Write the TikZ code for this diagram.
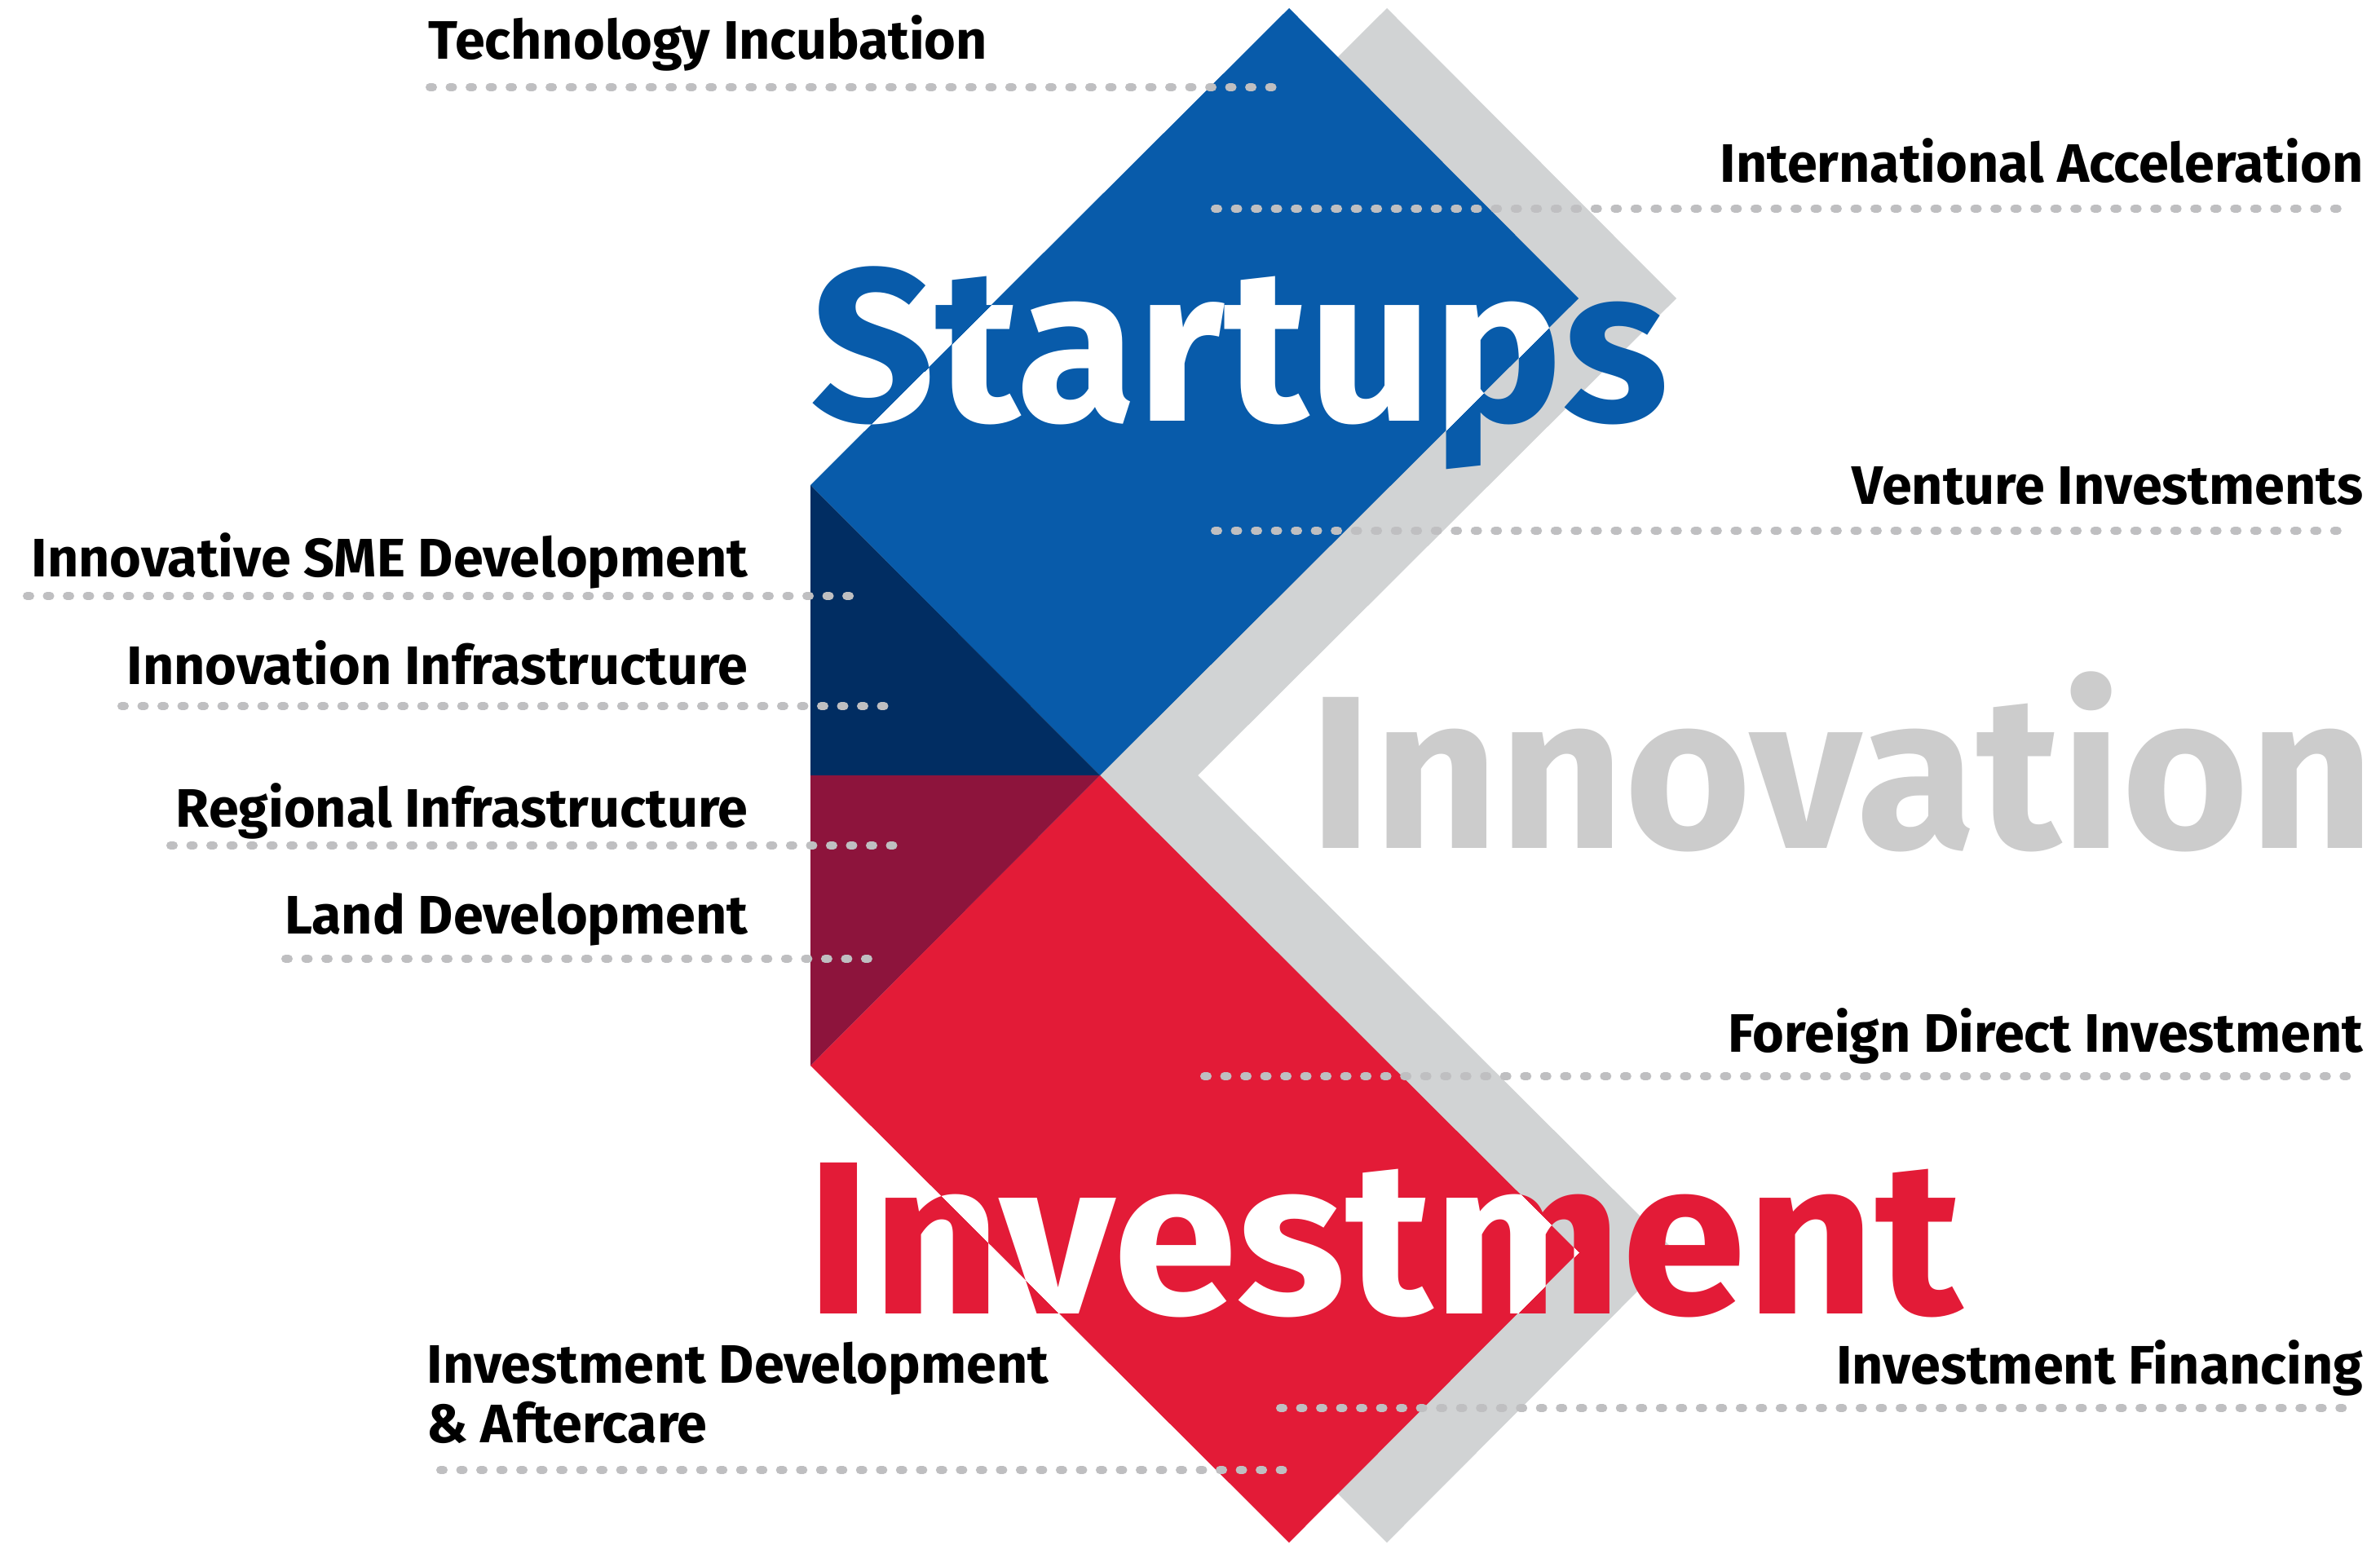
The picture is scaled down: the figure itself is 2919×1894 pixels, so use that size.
\documentclass[tikz,border=0pt]{standalone}
\usepackage{fontspec}
\setmainfont{Fira Sans}
\definecolor{startblue}{HTML}{085BAA}
\definecolor{startnavy}{HTML}{012D62}
\definecolor{invred}{HTML}{E31B37}
\definecolor{invcrimson}{HTML}{8D143C}
\definecolor{chevgray}{HTML}{D1D3D4}
\definecolor{wordgray}{HTML}{CCCCCC}
\definecolor{dotgray}{HTML}{BFBFC1}
\tikzset{
  lbl/.style={font=\bfseries\fontsize{18.9}{20.6}\selectfont, inner sep=0pt, text=black},
  bigword/.style={font=\bfseries\fontsize{76}{80}\selectfont, inner sep=0pt},
  leader/.style={draw=dotgray, line width=0.1cm, line cap=round, dash pattern=on 0.04cm off 0.205cm},
}
\begin{document}
\begin{tikzpicture}[x=0.01cm,y=-0.01cm]
\useasboundingbox (0,0) rectangle (2919,1894);
% grey chevron behind
\fill[chevgray] (1701,10) -- (2056,366) -- (1469,951) -- (2056,1536) -- (1701,1892)
  -- (1114,1307) -- (1114,595) -- cycle;
% blue and red blocks
\fill[startblue] (1581,10) -- (1936,366) -- (1349,951) -- (994,595) -- cycle;
\fill[invred] (1349,951) -- (1936,1536) -- (1581,1892) -- (994,1307) -- cycle;
\fill[startnavy] (994,595) -- (1349,951) -- (994,951) -- cycle;
\fill[invcrimson] (994,951) -- (1349,951) -- (994,1307) -- cycle;

% big words
\node[bigword, text=startblue, anchor=base west] (startups) at (994,516) {Startups};
\begin{scope}
\clip (1581,10) -- (1936,366) -- (1349,951) -- (994,595) -- cycle;
\node[bigword, text=white, anchor=base west] (startups-w) at (994,516) {Startups};
\end{scope}
\node[bigword, text=wordgray, anchor=base west] (innovation) at (1605,1040) {Innovation};
\node[bigword, text=invred, anchor=base west] (investment) at (988,1611) {\scalebox{1.03}[1]{Investment}};
\begin{scope}
\clip (1349,951) -- (1936,1536) -- (1581,1892) -- (994,1307) -- cycle;
\node[bigword, text=white, anchor=base west] (investment-w) at (988,1611) {\scalebox{1.03}[1]{Investment}};
\end{scope}

% labels
\node[lbl, anchor=base west] (techinc) at (525,73) {Technology Incubation};
\node[lbl, anchor=base east] (intacc) at (2899,223) {International Acceleration};
\node[lbl, anchor=base east] (venture) at (2899,618) {Venture Investments};
\node[lbl, anchor=base east] (sme) at (918,707) {Innovative SME Development};
\node[lbl, anchor=base east] (innoinfra) at (918,839) {Innovation Infrastructure};
\node[lbl, anchor=base east] (reginfra) at (918,1014) {Regional Infrastructure};
\node[lbl, anchor=base east] (land) at (918,1145) {Land Development};
\node[lbl, anchor=base east] (fdi) at (2899,1290) {Foreign Direct Investment};
\node[lbl, anchor=base west, align=left] (invdev) at (523,1769) {Investment Development\\\& Aftercare};
\node[lbl, anchor=base east] (invfin) at (2899,1697) {Investment Financing};

% dotted leaders
\foreach \nm/\xa/\xb/\yy in {ti/527/1573/107, ia/1490/2883/256, vi/1490/2883/651,
    sm/33/1058/731, ii/149/1099/866, ri/209/1110/1037, ld/350/1080/1176,
    fd/1477/2896/1320, id/540/1588/1803, if/1570/2883/1727}{
  \coordinate (\nm-a) at (\xa,\yy);
  \coordinate (\nm-b) at (\xb,\yy);
  \draw[leader] (\nm-a) -- (\nm-b);
}
\end{tikzpicture}
\end{document}
